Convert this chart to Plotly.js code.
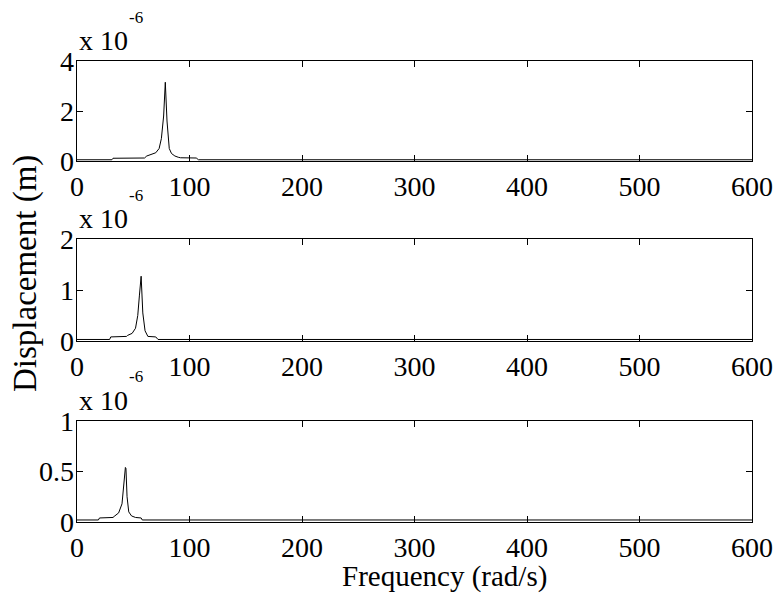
<!DOCTYPE html>
<html>
<head>
<meta charset="utf-8">
<script src="https://cdn.plot.ly/plotly-3.0.1.min.js"></script>
<style>html,body{margin:0;padding:0;background:#fff;}</style>
</head>
<body>
<div id="chart" style="width:775px;height:593px;"></div>
<script>
// Frequency (rad/s) and displacement (units of 1e-6 m)
const freq1 = [0, 31, 32, 60, 62, 66, 70, 73, 75, 77, 78.5, 80, 81, 82, 84, 87, 90, 92, 106, 108, 600];
const disp1 = [0.05, 0.05, 0.11, 0.12, 0.2, 0.25, 0.33, 0.5, 0.9, 1.8, 3.15, 1.6, 0.9, 0.5, 0.3, 0.2, 0.15, 0.13, 0.12, 0.05, 0.05];

const freq2 = [0, 29, 30, 44, 45, 49, 52, 54, 55.5, 57, 58.5, 60.5, 63, 70, 72, 600];
const disp2 = [0.03, 0.03, 0.08, 0.09, 0.11, 0.15, 0.25, 0.5, 0.9, 1.27, 0.55, 0.2, 0.09, 0.08, 0.03, 0.03];

const freq3 = [0, 19, 20, 32, 33, 37, 40, 42, 43, 43.5, 44.5, 46, 48.5, 52, 57, 58, 600];
const disp3 = [0.02, 0.02, 0.04, 0.045, 0.055, 0.09, 0.18, 0.4, 0.54, 0.53, 0.25, 0.1, 0.06, 0.045, 0.04, 0.02, 0.02];

const xTicks = [0, 100, 200, 300, 400, 500, 600];
const yTicks1 = [0, 2, 4];
const yTicks2 = [0, 1, 2];
const yTicks3 = [0, 0.5, 1];
const yRanges = [[0, 4], [0, 2], [0, 1]];

const scaleBase = 'x 10';
const scaleExp = '-6';
const xTitle = 'Frequency (rad/s)';
const yTitle = 'Displacement (m)';

const FONT = 'Liberation Serif, Times New Roman, serif';
const W = 775, H = 593;
const L = 77, R = 23;
const PW = W - L - R;
// panel pixel extents (top, bottom)
const panels = [[61, 161], [239, 341], [421, 522]];
const dom = panels.map(p => [1 - p[1] / H, 1 - p[0] / H]);

const lineStyle = {color: 'black', width: 1};
const traces = [
  {x: freq1, y: disp1, xaxis: 'x', yaxis: 'y', type: 'scatter', mode: 'lines', line: lineStyle, hoverinfo: 'skip'},
  {x: freq2, y: disp2, xaxis: 'x2', yaxis: 'y2', type: 'scatter', mode: 'lines', line: lineStyle, hoverinfo: 'skip'},
  {x: freq3, y: disp3, xaxis: 'x3', yaxis: 'y3', type: 'scatter', mode: 'lines', line: lineStyle, hoverinfo: 'skip'}
];

const common = {
  ticks: 'inside', ticklen: 6, tickwidth: 1, tickcolor: 'black',
  mirror: 'allticks', showline: true, linecolor: 'black', linewidth: 1.4,
  showgrid: false, zeroline: false, fixedrange: true,
  tickfont: {family: FONT, size: 28, color: 'black'}
};
function xAxis(anchor) {
  return Object.assign({anchor: anchor, domain: [0, 1], range: [0, 600], tickvals: xTicks}, common);
}
function yAxis(anchor, d, r, tv) {
  return Object.assign({anchor: anchor, domain: d, range: r, tickvals: tv, ticklabelstandoff: -4}, common);
}

const annotations = [];
panels.forEach(p => {
  annotations.push({
    xref: 'paper', yref: 'paper', x: 0, y: 1 - (p[0] - 21) / H, xanchor: 'left', yanchor: 'middle',
    showarrow: false, text: scaleBase, font: {family: FONT, size: 28, color: 'black'}
  });
  annotations.push({
    xref: 'paper', yref: 'paper', x: (127 - L) / PW, y: 1 - (p[0] - 44) / H, xanchor: 'left', yanchor: 'middle',
    showarrow: false, text: scaleExp, font: {family: FONT, size: 17, color: 'black'}
  });
});
annotations.push({
  xref: 'paper', yref: 'paper', x: (444 - L) / PW, y: 1 - 576 / H,
  xanchor: 'center', yanchor: 'middle', showarrow: false, text: xTitle,
  font: {family: FONT, size: 29, color: 'black'}
});
annotations.push({
  xref: 'paper', yref: 'paper', x: (25 - L) / PW, y: 1 - 274 / H,
  xanchor: 'center', yanchor: 'middle', showarrow: false, text: yTitle, textangle: -90,
  font: {family: FONT, size: 33, color: 'black'}
});

const layout = {
  width: W, height: H, autosize: false,
  margin: {l: L, r: R, t: 0, b: 0, pad: 0},
  paper_bgcolor: 'white', plot_bgcolor: 'white',
  showlegend: false,
  xaxis: xAxis('y'), yaxis: yAxis('x', dom[0], yRanges[0], yTicks1),
  xaxis2: xAxis('y2'), yaxis2: yAxis('x2', dom[1], yRanges[1], yTicks2),
  xaxis3: xAxis('y3'), yaxis3: yAxis('x3', dom[2], yRanges[2], yTicks3),
  annotations: annotations
};

Plotly.newPlot('chart', traces, layout, {staticPlot: true, displayModeBar: false});
</script>
</body>
</html>
